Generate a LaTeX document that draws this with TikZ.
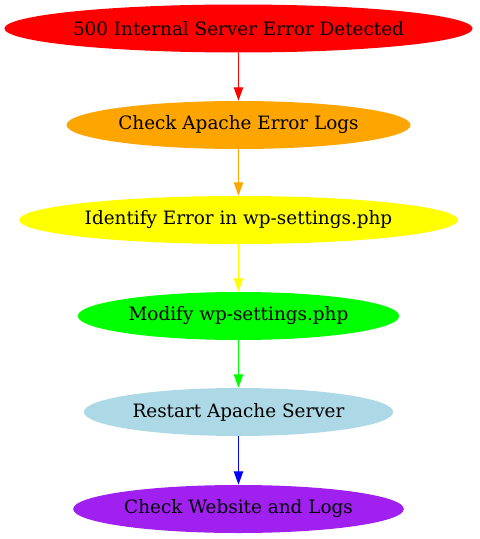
\documentclass[tikz,border=0pt]{standalone}
\usepackage{fontspec}
\setmainfont{DejaVu Serif}
\usetikzlibrary{shapes.geometric,arrows.meta}
\definecolor{gvred}{HTML}{FF0000}
\definecolor{gvorange}{HTML}{FFA500}
\definecolor{gvyellow}{HTML}{FFFF00}
\definecolor{gvgreen}{HTML}{00FF00}
\definecolor{gvlightblue}{HTML}{ADD8E6}
\definecolor{gvpurple}{HTML}{A020F0}
\definecolor{gvblue}{HTML}{0000FF}
\tikzset{
  stepnode/.style={ellipse, inner sep=0pt, minimum height=36pt, font=\fontsize{13.8pt}{16pt}\selectfont, text=black},
  flow/.style={-{Triangle[length=10pt,width=7pt]}, line width=0.75pt}
}
\begin{document}
\begin{tikzpicture}[x=0.75pt,y=-0.75pt]
\useasboundingbox (0,0) rectangle (479,539);
\node[stepnode, fill=gvred, minimum width=350.5pt] (a) at (238.5,28.5) {500 Internal Server Error Detected};
\node[stepnode, fill=gvorange, minimum width=258pt] (b) at (238.5,125) {Check Apache Error Logs};
\node[stepnode, fill=gvyellow, minimum width=329pt] (c) at (238.5,220) {Identify Error in wp-settings.php};
\node[stepnode, fill=gvgreen, minimum width=241pt] (d) at (238.5,316) {Modify wp-settings.php};
\node[stepnode, fill=gvlightblue, minimum width=232pt] (e) at (238.5,412) {Restart Apache Server};
\node[stepnode, fill=gvpurple, minimum width=248pt] (f) at (238.5,509) {Check Website and Logs};
\draw[flow, gvred] (a) -- (b);
\draw[flow, gvorange] (b) -- (c);
\draw[flow, gvyellow] (c) -- (d);
\draw[flow, gvgreen] (d) -- (e);
\draw[flow, gvblue] (e) -- (f);
\end{tikzpicture}
\end{document}
